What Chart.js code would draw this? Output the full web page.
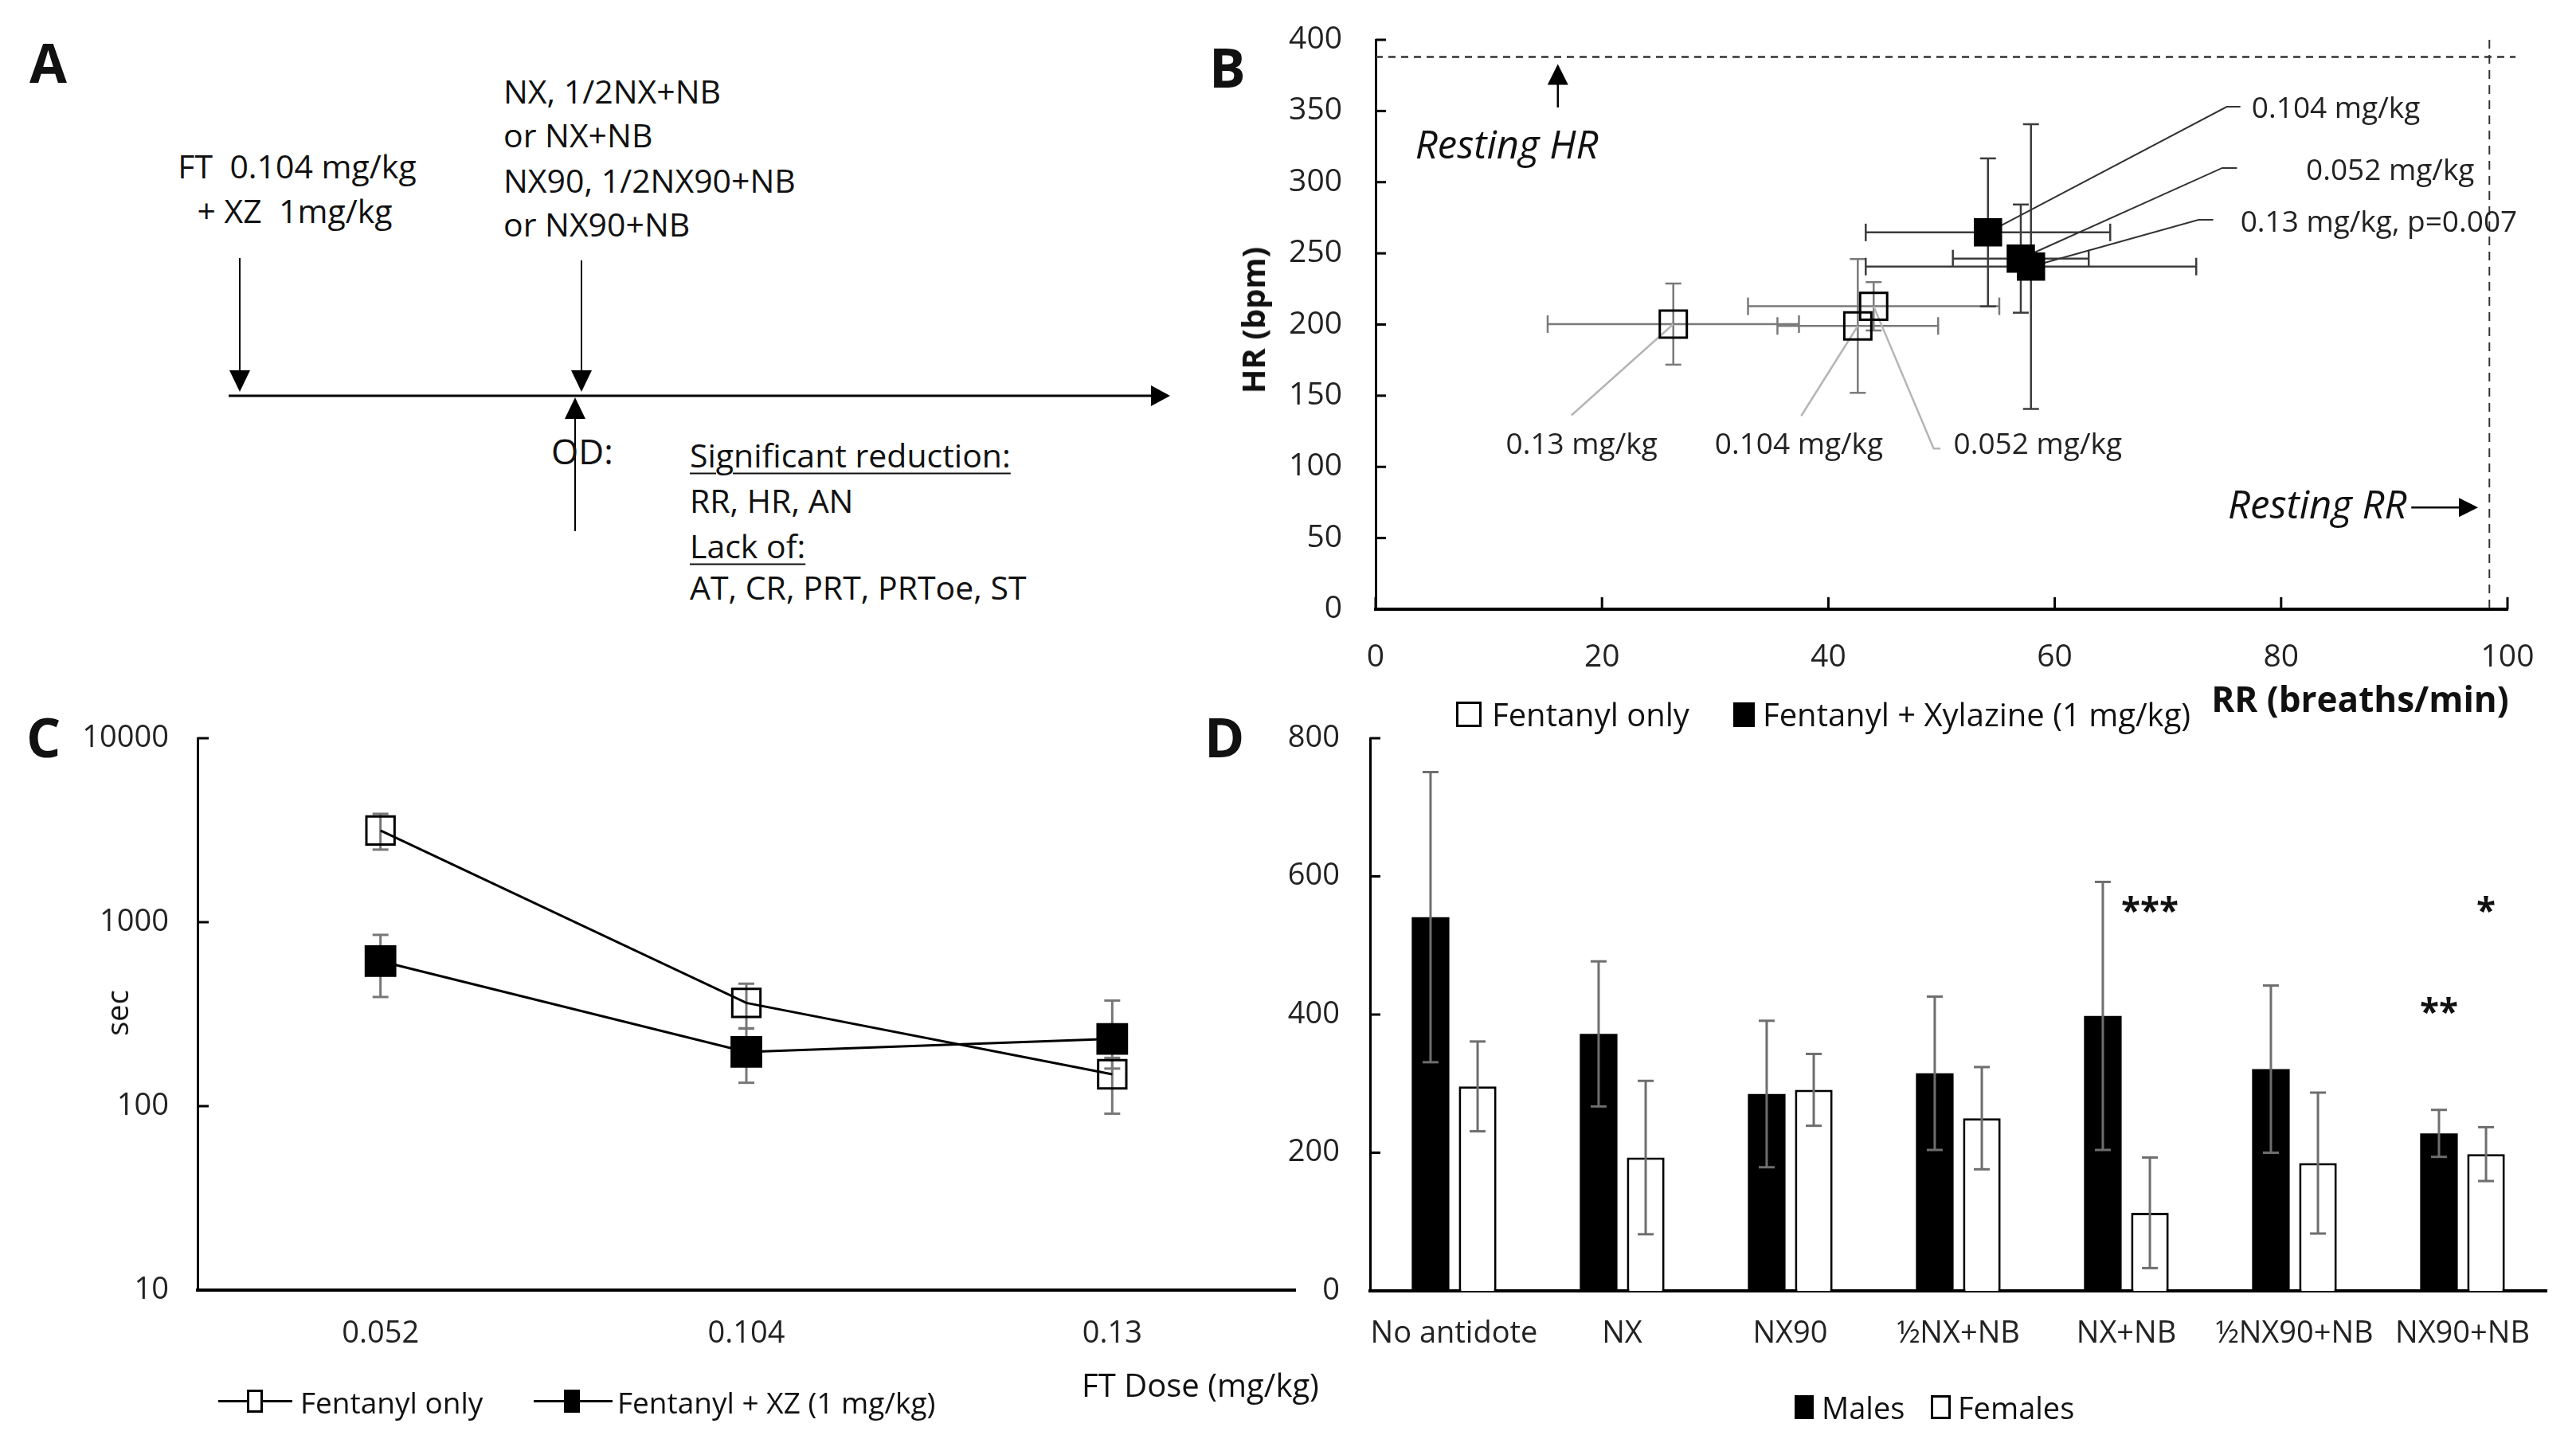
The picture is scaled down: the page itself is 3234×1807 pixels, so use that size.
<!DOCTYPE html>
<html lang="en">
<head>
<meta charset="UTF-8">
<title>Fentanyl + xylazine overdose</title>
<script src="https://cdn.jsdelivr.net/npm/chart.js@4"></script>
<style>
    body { margin: 0; background: #fff; }
    #page { position: relative; width: 3234px; height: 1807px; overflow: hidden; font-family: 'Open Sans', sans-serif; color: #111; }
    canvas { position: absolute; }
    .t { position: absolute; white-space: pre; line-height: 1; transform: translateY(-50%); font-size: 41px; }
    .c { transform: translate(-50%, -50%); }
    .letter { font-weight: bold; font-size: 68px; }
    .u { text-decoration: underline; text-underline-offset: 7px; text-decoration-thickness: 2px; }
    .box { position: absolute; box-sizing: border-box; border: 3px solid #000; background: #fff; }
    .fill { background: #000; }
    .ln { position: absolute; height: 3px; background: #000; }
</style>
</head>
<body>
<div id="page">
    <!-- panel A: timeline diagram -->
    <div class="t letter" style="left:37px; top:78px;">A</div>
    <svg style="position:absolute; left:0; top:0;" width="1500" height="880">
        <g stroke="#000" fill="none">
            <line x1="287" y1="497" x2="1450" y2="497" stroke-width="3"/>
            <line x1="301" y1="324" x2="301" y2="470" stroke-width="2"/>
            <line x1="730" y1="327" x2="730" y2="470" stroke-width="2"/>
            <line x1="722" y1="667" x2="722" y2="520" stroke-width="2"/>
        </g>
        <g fill="#000">
            <polygon points="1469,497 1445,484 1445,510"/>
            <polygon points="301,492 288,465 314,465"/>
            <polygon points="730,492 717,465 743,465"/>
            <polygon points="722,499 709,526 735,526"/>
        </g>
    </svg>
    <div class="t c" style="left:373px; top:208px;">FT  0.104 mg/kg</div>
    <div class="t c" style="left:370px; top:264px;">+ XZ  1mg/kg</div>
    <div class="t" style="left:632px; top:114px;">NX, 1/2NX+NB</div>
    <div class="t" style="left:632px; top:169px;">or NX+NB</div>
    <div class="t" style="left:632px; top:226px;">NX90, 1/2NX90+NB</div>
    <div class="t" style="left:632px; top:281px;">or NX90+NB</div>
    <div class="t" style="left:692px; top:566px; font-size:44px;">OD:</div>
    <div class="t u" style="left:866px; top:571px;">Significant reduction:</div>
    <div class="t" style="left:866px; top:628px;">RR, HR, AN</div>
    <div class="t u" style="left:866px; top:685px;">Lack of:</div>
    <div class="t" style="left:866px; top:737px;">AT, CR, PRT, PRToe, ST</div>

    <!-- panel B -->
    <div class="t letter" style="left:1518px; top:84px;">B</div>
    <canvas id="chartB" width="1734" height="880" style="left:1500px; top:0;"></canvas>
    <div class="t c" style="left:1573px; top:402px; font-size:40px; font-weight:bold; transform:translate(-50%,-50%) rotate(-90deg);">HR (bpm)</div>
    <div class="t c" style="left:2963px; top:877px; font-size:44px; font-weight:bold;">RR (breaths/min)</div>
    <div class="box" style="left:1828px; top:881px; width:32px; height:32px;"></div>
    <div class="t" style="left:1873px; top:897px; font-size:40px;">Fentanyl only</div>
    <div class="box fill" style="left:2176px; top:882px; width:27px; height:31px;"></div>
    <div class="t" style="left:2213px; top:897px; font-size:40px;">Fentanyl + Xylazine (1 mg/kg)</div>

    <!-- panel C -->
    <div class="t letter" style="left:33px; top:925px;">C</div>
    <canvas id="chartC" width="1700" height="927" style="left:0; top:880px;"></canvas>
    <div class="t c" style="left:146px; top:1272px; font-size:38px; transform:translate(-50%,-50%) rotate(-90deg);">sec</div>
    <div class="t c" style="left:1507px; top:1739px; font-size:40px;">FT Dose (mg/kg)</div>
    <div class="ln" style="left:274px; top:1758px; width:93px;"></div>
    <div class="box" style="left:310px; top:1745px; width:20px; height:29px;"></div>
    <div class="t" style="left:377px; top:1760px; font-size:37px;">Fentanyl only</div>
    <div class="ln" style="left:670px; top:1758px; width:99px;"></div>
    <div class="box fill" style="left:708px; top:1745px; width:20px; height:29px;"></div>
    <div class="t" style="left:775px; top:1760px; font-size:37px;">Fentanyl + XZ (1 mg/kg)</div>

    <!-- panel D -->
    <div class="t letter" style="left:1512px; top:925px;">D</div>
    <canvas id="chartD" width="1734" height="927" style="left:1500px; top:880px;"></canvas>
    <div class="box fill" style="left:2253px; top:1752px; width:24px; height:30px;"></div>
    <div class="t" style="left:2287px; top:1767px; font-size:38px;">Males</div>
    <div class="box" style="left:2424px; top:1752px; width:25px; height:30px;"></div>
    <div class="t" style="left:2458px; top:1767px; font-size:38px;">Females</div>
</div>

<script>
    // ---- panel B: RR vs HR at overdose, mean ± SD, doses 0.052 / 0.104 / 0.13 mg/kg
    const bDoses = ['0.052 mg/kg', '0.104 mg/kg', '0.13 mg/kg'];
    const ftRR = [44.0, 42.6, 26.3];
    const ftHR = [212.8, 199.0, 200.3];
    const ftRRerr = [11.1, 7.1, 11.1];
    const ftHRerr = [17, 47, 28.5];
    const fxRR = [57.0, 54.1, 57.9];
    const fxHR = [246.3, 264.7, 240.7];
    const fxRRerr = [6.0, 10.8, 14.6];
    const fxHRerr = [38, 52, 100];
    const restingHR = 388;
    const restingRR = 98.4;

    // ---- panel C: time to OD (log sec)
    const cDoses = ['0.052', '0.104', '0.13'];
    const cFt = [3150, 364, 149];
    const cFtLow = [2480, 264, 91];
    const cFtHigh = [3880, 463, 183];
    const cFx = [614, 197, 232];
    const cFxLow = [392, 134, 160];
    const cFxHigh = [853, 265, 375];
    const cTicks = [10, 100, 1000, 10000];

    // ---- panel D: recovery by antidote and sex
    const treatments = ['No antidote', 'NX', 'NX90', '½NX+NB', 'NX+NB', '½NX90+NB', 'NX90+NB'];
    const males = [541, 372, 285, 315, 398, 321, 228];
    const malesErr = [210, 105, 106, 111, 194, 121, 34];
    const females = [296, 193, 291, 250, 113, 185, 198];
    const femalesErr = [65, 111, 52, 74, 80, 102, 39];
    const starText = ['***', '**', '*'];
    const starGroup = [4, 6, 6];
    const starSeries = [1, 0, 1];
    const starValue = [557, 411, 557];

    // annotation placement for panel B, in axis units (RR, HR)
    const fxNotes = [
        { text: '0.052 mg/kg', at: [82.2, 307.7], path: [[76.1, 310], [74.8, 310]] },
        { text: '0.104 mg/kg', at: [77.4, 350.8], path: [[76.4, 353], [75.2, 353]] },
        { text: '0.13 mg/kg, p=0.007', at: [76.4, 271.3], path: [[74.0, 273.5], [72.7, 273.5]] }
    ];
    const ftNotes = [
        { text: '0.052 mg/kg', at: [58.5, 115], path: [[49.9, 112.9], [49.3, 112.9]] },
        { text: '0.104 mg/kg', at: [37.4, 115], path: [[37.6, 135.8]] },
        { text: '0.13 mg/kg', at: [18.2, 115], path: [[17.3, 136.2]] }
    ];

    Chart.defaults.font.family = "'Open Sans', sans-serif";
    Chart.defaults.color = '#222';
    Chart.defaults.animation = false;

    function seg(ctx, pts, color, width, dash) {
        ctx.save();
        ctx.beginPath();
        ctx.strokeStyle = color;
        ctx.lineWidth = width;
        ctx.setLineDash(dash || []);
        ctx.moveTo(pts[0][0], pts[0][1]);
        for (let i = 1; i < pts.length; i++) ctx.lineTo(pts[i][0], pts[i][1]);
        ctx.stroke();
        ctx.restore();
    }

    function head(ctx, tx, ty, dx, dy, len, half) {
        ctx.save();
        ctx.fillStyle = '#000';
        ctx.beginPath();
        ctx.moveTo(tx, ty);
        ctx.lineTo(tx - dx * len - dy * half, ty - dy * len + dx * half);
        ctx.lineTo(tx - dx * len + dy * half, ty - dy * len - dx * half);
        ctx.closePath();
        ctx.fill();
        ctx.restore();
    }

    function vErr(ctx, x, yTop, yBot, cap, color, w) {
        seg(ctx, [[x, yTop], [x, yBot]], color, w);
        seg(ctx, [[x - cap, yTop], [x + cap, yTop]], color, w);
        seg(ctx, [[x - cap, yBot], [x + cap, yBot]], color, w);
    }

    function hErr(ctx, y, xL, xR, cap, color, w) {
        seg(ctx, [[xL, y], [xR, y]], color, w);
        seg(ctx, [[xL, y - cap], [xL, y + cap]], color, w);
        seg(ctx, [[xR, y - cap], [xR, y + cap]], color, w);
    }

    function innerTicks(chart, id, len, width) {
        const s = chart.scales[id], a = chart.chartArea;
        s.ticks.forEach(t => {
            const p = s.getPixelForValue(t.value);
            if (s.isHorizontal()) seg(chart.ctx, [[p, a.bottom], [p, a.bottom - len]], '#000', width);
            else seg(chart.ctx, [[a.left, p], [a.left + len, p]], '#000', width);
        });
    }

    function fixSize(size) {
        return function (scale) {
            if (scale.isHorizontal()) scale.height = size; else scale.width = size;
            scale.paddingLeft = scale.paddingRight = scale.paddingTop = scale.paddingBottom = 0;
        };
    }

    // nudge layout padding until the plot area sits where the reference has it
    function pin(chart, area) {
        for (let i = 0; i < 3; i++) {
            const a = chart.chartArea, p = chart.options.layout.padding;
            const dl = area.left - a.left, dt = area.top - a.top;
            const dr = a.right - area.right, db = a.bottom - area.bottom;
            if (Math.abs(dl) + Math.abs(dt) + Math.abs(dr) + Math.abs(db) < 0.5) break;
            p.left += dl; p.top += dt; p.right += dr; p.bottom += db;
            chart.update();
        }
    }

    // ---------------- B
    const bDecor = {
        id: 'bDecor',
        beforeDatasetsDraw(chart) {
            const { ctx, scales: { x, y }, chartArea: a } = chart;
            const yr = y.getPixelForValue(restingHR);
            seg(ctx, [[a.left, yr], [a.right + 10, yr]], '#333', 2.5, [9, 7]);
            const xr = x.getPixelForValue(restingRR);
            seg(ctx, [[xr, a.top], [xr, a.bottom]], '#333', 2, [11, 8]);

            const errs = [[ftRRerr, ftHRerr, '#7a7a7a'], [fxRRerr, fxHRerr, '#3c3c3c']];
            chart.data.datasets.forEach((ds, i) => {
                const [ex, ey, col] = errs[i];
                ds.data.forEach((d, j) => {
                    const px = x.getPixelForValue(d.x), py = y.getPixelForValue(d.y);
                    hErr(ctx, py, x.getPixelForValue(d.x - ex[j]), x.getPixelForValue(d.x + ex[j]), 11, col, 2.5);
                    vErr(ctx, px, y.getPixelForValue(d.y + ey[j]), y.getPixelForValue(d.y - ey[j]), 10, col, 2.5);
                });
            });

            const notes = [[ftNotes, 0, '#b5b5b5', 2.5], [fxNotes, 1, '#333', 2]];
            notes.forEach(([list, di, col, w]) => {
                const d = chart.data.datasets[di].data;
                list.forEach((n, j) => {
                    const pts = n.path.map(p => [x.getPixelForValue(p[0]), y.getPixelForValue(p[1])]);
                    pts.push([x.getPixelForValue(d[j].x), y.getPixelForValue(d[j].y)]);
                    seg(ctx, pts, col, w);
                });
            });
        },
        afterDatasetsDraw(chart) {
            const { ctx, scales: { x, y } } = chart;
            ctx.save();
            ctx.fillStyle = '#222';
            ctx.textBaseline = 'middle';
            ctx.font = "37px 'Open Sans'";
            ctx.textAlign = 'left';
            fxNotes.forEach(n => ctx.fillText(n.text, x.getPixelForValue(n.at[0]), y.getPixelForValue(n.at[1])));
            ctx.textAlign = 'center';
            ftNotes.forEach(n => ctx.fillText(n.text, x.getPixelForValue(n.at[0]), y.getPixelForValue(n.at[1])));

            ctx.font = "italic 49px 'Open Sans'";
            ctx.fillStyle = '#111';
            ctx.textAlign = 'left';
            ctx.fillText('Resting HR', x.getPixelForValue(3.5), y.getPixelForValue(324.5));
            ctx.textAlign = 'right';
            ctx.fillText('Resting RR', x.getPixelForValue(91.1), y.getPixelForValue(71.4));
            ctx.restore();

            const ax = x.getPixelForValue(16.1);
            seg(ctx, [[ax, y.getPixelForValue(352.5)], [ax, y.getPixelForValue(375)]], '#000', 2.5);
            head(ctx, ax, y.getPixelForValue(383), 0, -1, 26, 13);
            const ay = y.getPixelForValue(71.4);
            seg(ctx, [[x.getPixelForValue(91.5), ay], [x.getPixelForValue(96.5), ay]], '#000', 2.5);
            head(ctx, x.getPixelForValue(97.4), ay, 1, 0, 24, 12);

            innerTicks(chart, 'x', 15, 3);
            innerTicks(chart, 'y', 13, 3);
        }
    };

    const chartB = new Chart(document.getElementById('chartB'), {
        type: 'scatter',
        data: {
            datasets: [
                {
                    label: 'Fentanyl only',
                    data: ftRR.map((v, i) => ({ x: v, y: ftHR[i] })),
                    pointStyle: 'rect', pointRadius: 24, pointBorderWidth: 3,
                    pointBorderColor: '#000', pointBackgroundColor: 'rgba(255,255,255,0)'
                },
                {
                    label: 'Fentanyl + Xylazine (1 mg/kg)',
                    data: fxRR.map((v, i) => ({ x: v, y: fxHR[i] })),
                    pointStyle: 'rect', pointRadius: 23, pointBorderWidth: 3,
                    pointBorderColor: '#000', pointBackgroundColor: '#000'
                }
            ]
        },
        options: {
            responsive: false,
            devicePixelRatio: 1,
            events: [],
            clip: false,
            layout: { padding: { left: 0, top: 50, right: 86, bottom: 0 } },
            plugins: { legend: { display: false }, tooltip: { enabled: false } },
            scales: {
                x: {
                    type: 'linear', min: 0, max: 100,
                    ticks: { stepSize: 20, padding: 37, font: { size: 39 }, maxRotation: 0 },
                    grid: { display: false, drawTicks: false },
                    border: { display: true, color: '#000', width: 4 },
                    afterFit: fixSize(115)
                },
                y: {
                    min: 0, max: 400,
                    ticks: { stepSize: 50, padding: 42, font: { size: 39 } },
                    grid: { display: false, drawTicks: false },
                    border: { display: true, color: '#000', width: 3 },
                    afterFit: fixSize(227)
                }
            }
        },
        plugins: [bDecor]
    });
    pin(chartB, { left: 227, top: 50, right: 1648, bottom: 765 });

    // ---------------- C
    const cDecor = {
        id: 'cDecor',
        beforeDatasetsDraw(chart) {
            const { ctx, scales: { y } } = chart;
            const sets = [[cFtLow, cFtHigh], [cFxLow, cFxHigh]];
            sets.forEach(([lo, hi], i) => {
                chart.getDatasetMeta(i).data.forEach((pt, j) => {
                    vErr(ctx, pt.x, y.getPixelForValue(hi[j]), y.getPixelForValue(lo[j]), 10, '#777', 3);
                });
            });
        },
        afterDatasetsDraw(chart) {
            innerTicks(chart, 'y', 14, 3);
        }
    };

    const chartC = new Chart(document.getElementById('chartC'), {
        type: 'line',
        data: {
            labels: cDoses,
            datasets: [
                {
                    label: 'Fentanyl only', data: cFt,
                    borderColor: '#000', borderWidth: 3, tension: 0,
                    pointStyle: 'rect', pointRadius: 25, pointBorderWidth: 3,
                    pointBorderColor: '#000', pointBackgroundColor: 'rgba(255,255,255,0)'
                },
                {
                    label: 'Fentanyl + XZ (1 mg/kg)', data: cFx,
                    borderColor: '#000', borderWidth: 3, tension: 0,
                    pointStyle: 'rect', pointRadius: 26, pointBorderWidth: 3,
                    pointBorderColor: '#000', pointBackgroundColor: '#000'
                }
            ]
        },
        options: {
            responsive: false,
            devicePixelRatio: 1,
            events: [],
            clip: false,
            layout: { padding: { left: 0, top: 47, right: 74, bottom: 0 } },
            plugins: { legend: { display: false }, tooltip: { enabled: false } },
            scales: {
                x: {
                    offset: true,
                    ticks: { padding: 32, font: { size: 38 }, maxRotation: 0 },
                    grid: { display: false, drawTicks: false, offset: true },
                    border: { display: true, color: '#000', width: 4 },
                    afterFit: fixSize(187)
                },
                y: {
                    type: 'logarithmic', min: 10, max: 10000,
                    afterBuildTicks: s => { s.ticks = cTicks.map(v => ({ value: v })); },
                    ticks: { padding: 36, font: { size: 38 }, callback: v => String(v) },
                    grid: { display: false, drawTicks: false },
                    border: { display: true, color: '#000', width: 3 },
                    afterFit: fixSize(248)
                }
            }
        },
        plugins: [cDecor]
    });
    pin(chartC, { left: 248, top: 47, right: 1626, bottom: 740 });

    // ---------------- D
    const dDecor = {
        id: 'dDecor',
        afterDatasetsDraw(chart) {
            const { ctx, scales: { y } } = chart;
            const sets = [[males, malesErr], [females, femalesErr]];
            sets.forEach(([m, e], i) => {
                chart.getDatasetMeta(i).data.forEach((bar, j) => {
                    vErr(ctx, bar.x, y.getPixelForValue(m[j] + e[j]), y.getPixelForValue(m[j] - e[j]), 10, '#6e6e6e', 3);
                });
            });
            ctx.save();
            ctx.font = "bold 44px 'Open Sans'";
            ctx.fillStyle = '#111';
            ctx.textAlign = 'center';
            ctx.textBaseline = 'middle';
            starText.forEach((s, k) => {
                const bar = chart.getDatasetMeta(starSeries[k]).data[starGroup[k]];
                ctx.fillText(s, bar.x, y.getPixelForValue(starValue[k]) + 9);
            });
            ctx.restore();
            innerTicks(chart, 'y', 13, 3);
        }
    };

    const chartD = new Chart(document.getElementById('chartD'), {
        type: 'bar',
        data: {
            labels: treatments,
            datasets: [
                {
                    label: 'Males', data: males,
                    backgroundColor: '#000', borderColor: '#000', borderWidth: 0,
                    categoryPercentage: 0.56, barPercentage: 0.8
                },
                {
                    label: 'Females', data: females,
                    backgroundColor: '#fff', borderColor: '#000', borderWidth: 3,
                    categoryPercentage: 0.56, barPercentage: 0.8
                }
            ]
        },
        options: {
            responsive: false,
            devicePixelRatio: 1,
            events: [],
            layout: { padding: { left: 0, top: 47, right: 37, bottom: 0 } },
            plugins: { legend: { display: false }, tooltip: { enabled: false } },
            scales: {
                x: {
                    ticks: { padding: 31, font: { size: 38 }, autoSkip: false, maxRotation: 0, minRotation: 0 },
                    grid: { display: false, drawTicks: false },
                    border: { display: true, color: '#000', width: 4 },
                    afterFit: fixSize(186)
                },
                y: {
                    min: 0, max: 800,
                    ticks: { stepSize: 200, padding: 38, font: { size: 38 } },
                    grid: { display: false, drawTicks: false },
                    border: { display: true, color: '#000', width: 3 },
                    afterFit: fixSize(220)
                }
            }
        },
        plugins: [dDecor]
    });
    pin(chartD, { left: 220, top: 47, right: 1697, bottom: 741 });
</script>
</body>
</html>
